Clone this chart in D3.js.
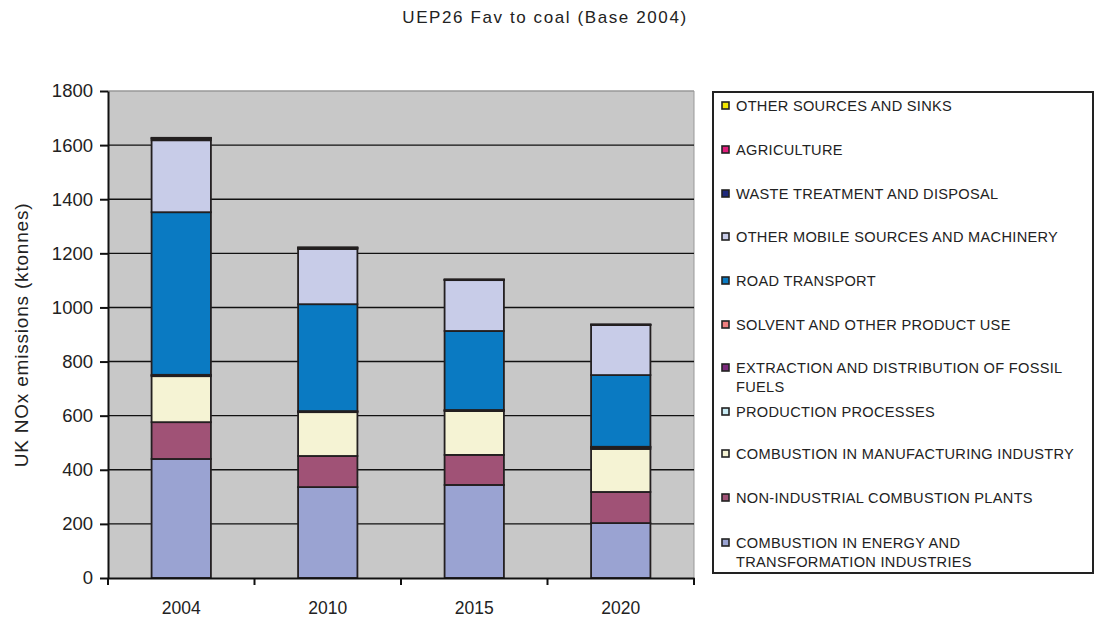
<!DOCTYPE html>
<html><head><meta charset="utf-8">
<script src="https://cdn.jsdelivr.net/npm/d3@7"></script>
<style>body{margin:0;background:#fff;}svg{display:block;font-family:"Liberation Sans",Arial,sans-serif;}</style>
</head><body>
<script>
const years = ["2004","2010","2015","2020"];
const seriesNames = [
  "COMBUSTION IN ENERGY AND TRANSFORMATION INDUSTRIES",
  "NON-INDUSTRIAL COMBUSTION PLANTS",
  "COMBUSTION IN MANUFACTURING INDUSTRY",
  "PRODUCTION PROCESSES",
  "EXTRACTION AND DISTRIBUTION OF FOSSIL FUELS",
  "SOLVENT AND OTHER PRODUCT USE",
  "ROAD TRANSPORT",
  "OTHER MOBILE SOURCES AND MACHINERY",
  "WASTE TREATMENT AND DISPOSAL",
  "AGRICULTURE",
  "OTHER SOURCES AND SINKS"
];
const energy      = [440, 336, 344, 203];
const nonInd      = [136, 115, 111, 115];
const manuf       = [170, 162, 162, 159];
const production  = [3, 2, 2, 6];
const extraction  = [2, 2, 2, 2];
const solvent     = [0, 0, 0, 0];
const road        = [601, 395, 292, 265];
const otherMobile = [266, 204, 188, 185];
const waste       = [6, 4, 1, 1];
const agriculture = [2, 1, 1, 0.5];
const otherSrc    = [1, 1, 0.5, 0.5];
const yTicks = [0,200,400,600,800,1000,1200,1400,1600,1800];
const colors = ["#9aa3d2","#a05276","#f5f3d4","#c9ecf5","#7b2a7b","#f08080","#0a7ac2","#c8cce8","#1f2a7c","#e01e7c","#f2e600"];
const seriesValues = [energy,nonInd,manuf,production,extraction,solvent,road,otherMobile,waste,agriculture,otherSrc];

const W=1095,H=619;
const svg=d3.select("body").append("svg").attr("width",W).attr("height",H);
const L=108,R=694,T=91,B=578;
const x=d3.scaleBand().domain(years).range([L,R]).padding(0);
const y=d3.scaleLinear().domain([0,1800]).range([B,T]);

// title
svg.append("text").attr("x",545).attr("y",23).attr("text-anchor","middle")
  .attr("font-size",17).attr("letter-spacing",1.6).attr("fill","#222").text("UEP26 Fav to coal (Base 2004)");

// plot bg
svg.append("rect").attr("x",L).attr("y",T).attr("width",R-L).attr("height",B-T).attr("fill","#c8c8c8");
svg.append("line").attr("x1",L).attr("x2",R).attr("y1",T).attr("y2",T).attr("stroke","#999").attr("stroke-width",1.5);
svg.append("line").attr("x1",R).attr("x2",R).attr("y1",T).attr("y2",B).attr("stroke","#999").attr("stroke-width",1);

// gridlines
svg.append("g").selectAll("line").data(yTicks.filter(d=>d>0 && d<1800)).join("line")
  .attr("x1",L).attr("x2",R).attr("y1",d=>y(d)).attr("y2",d=>y(d))
  .attr("stroke","#111").attr("stroke-width",1.4);

// stack
const rows = years.map((yr,i)=>{const o={year:yr}; seriesNames.forEach((s,j)=>o[s]=seriesValues[j][i]); return o;});
const stack=d3.stack().keys(seriesNames)(rows);
const bw = x.bandwidth()*0.405;
const g=svg.append("g");
stack.forEach((layer,j)=>{
  g.append("g").selectAll("rect").data(layer).join("rect")
    .attr("x",d=>x(d.data.year)+(x.bandwidth()-bw)/2)
    .attr("width",bw)
    .attr("y",d=>y(d[1]))
    .attr("height",d=>Math.max(0,y(d[0])-y(d[1])))
    .attr("fill",colors[j]).attr("stroke","#231f20").attr("stroke-width",1.8);
});

// y axis
const yAxis=d3.axisLeft(y).tickValues(yTicks).tickFormat(d3.format("d")).tickSize(8).tickSizeOuter(0);
const ya=svg.append("g").attr("transform",`translate(${L},0)`).call(yAxis);
ya.select(".domain").attr("stroke","#111").attr("stroke-width",2);
ya.selectAll(".tick line").attr("stroke","#111").attr("stroke-width",2);
ya.selectAll(".tick text").attr("font-size",18.5).attr("fill","#222").attr("x",-15).attr("font-family","Liberation Sans, Arial, sans-serif");

// x axis
const xa=svg.append("g").attr("transform",`translate(0,${B})`).call(d3.axisBottom(x).tickSize(0).tickSizeOuter(0));
xa.select(".domain").attr("stroke","#111").attr("stroke-width",2);
xa.selectAll(".tick text").attr("font-size",17.5).attr("fill","#222").attr("dy",0).attr("y",36).attr("font-family","Liberation Sans, Arial, sans-serif");
const bounds = years.map(d=>x(d)).concat([R]);
svg.append("g").selectAll("line").data(bounds).join("line")
  .attr("x1",d=>d).attr("x2",d=>d).attr("y1",B).attr("y2",B+7).attr("stroke","#111").attr("stroke-width",2);

// y title
svg.append("text").attr("transform","translate(28,335) rotate(-90)").attr("text-anchor","middle")
  .attr("font-size",19).attr("letter-spacing",0.8).attr("fill","#222").text("UK NOx emissions (ktonnes)");

// legend
svg.append("rect").attr("x",713).attr("y",92).attr("width",380).attr("height",481)
  .attr("fill","#fff").attr("stroke","#222").attr("stroke-width",2);
const legendOrder = [10,9,8,7,6,5,4,3,2,1,0];
const legendY = [106,150,194,237,281,325,368,412,454,498,543];
const legendLines = {
  4:["EXTRACTION AND DISTRIBUTION OF FOSSIL","FUELS"],
  0:["COMBUSTION IN ENERGY AND","TRANSFORMATION INDUSTRIES"]
};
legendOrder.forEach((si,k)=>{
  const cy=legendY[k];
  svg.append("rect").attr("x",722).attr("y",cy-4).attr("width",7).attr("height",7)
    .attr("fill",colors[si]).attr("stroke","#222").attr("stroke-width",1.6);
  const lines = legendLines[si] || [seriesNames[si]];
  const t=svg.append("text").attr("x",736).attr("y",cy+5).attr("font-size",14.6).attr("letter-spacing",0.3).attr("fill","#222");
  lines.forEach((ln,i)=>t.append("tspan").attr("x",736).attr("dy",i===0?0:19).text(ln));
});
</script>
</body></html>
